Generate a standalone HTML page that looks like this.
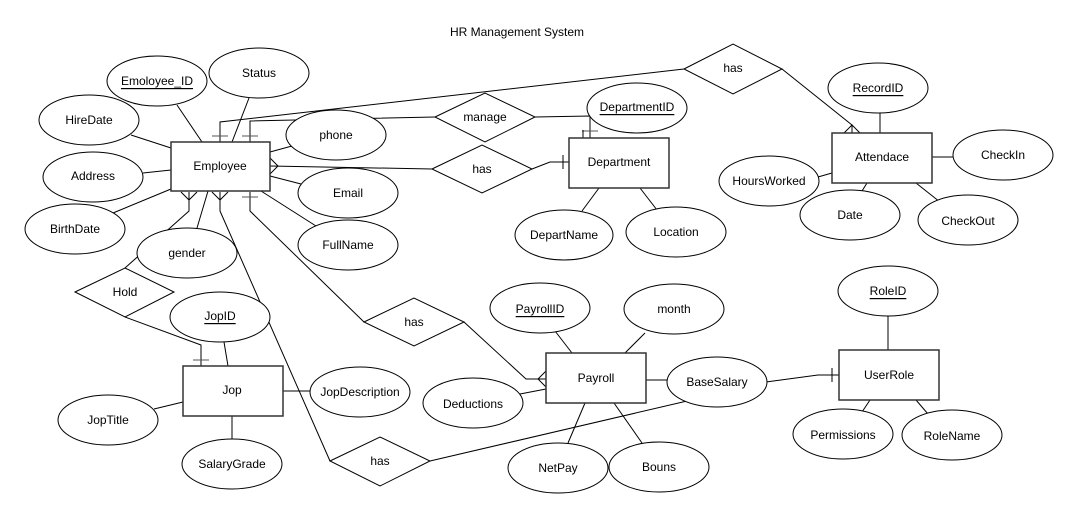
<!DOCTYPE html>
<html><head><meta charset="utf-8"><style>
html,body{margin:0;padding:0;background:#fff;}
svg{display:block;}
text{font-family:"Liberation Sans",Arial,sans-serif;font-size:12px;fill:#000;}
</style></head><body>
<svg width="1080" height="521" viewBox="0 0 1080 521" xmlns="http://www.w3.org/2000/svg">
<g stroke="#000" stroke-width="1" fill="none">
<!-- connectors -->
<!-- Employee -> has(top) -> Attendace -->
<polyline points="220,142 220,122 684,69"/>
<line x1="212" y1="136" x2="228" y2="136" stroke="#555"/>
<polyline points="782,69 852,125 852,133"/>
<polyline points="844,133 852,125 860,133"/>
<!-- Employee -> manage -> Department -->
<polyline points="250,142 250,121 435,117"/>
<line x1="242" y1="136" x2="258" y2="136" stroke="#555"/>
<polyline points="535,117 590,116 590,138"/>
<line x1="582" y1="131" x2="598" y2="131" stroke="#555"/>
<!-- Employee -> has -> Department -->
<polyline points="270,166 432,169"/>
<polyline points="270,158 278,166 270,174"/>
<polyline points="532,169 550,162 569,162"/>
<line x1="563" y1="155" x2="563" y2="169"/>
<!-- Employee -> Hold -> Jop -->
<polyline points="189,192 189,211 125,268"/>
<polyline points="181,192 189,200 197,192"/>
<polyline points="125,317 201,345 201,366"/>
<line x1="193" y1="360" x2="209" y2="360" stroke="#555"/>
<!-- Employee -> has(lower) -> UserRole -->
<polyline points="220,192 220,211 330,461"/>
<polyline points="212,192 220,200 228,192"/>
<polyline points="430,461 700,398"/>
<polyline points="766,382 818,375 839,375"/>
<line x1="832" y1="368" x2="832" y2="382"/>
<!-- Employee -> has -> Payroll -->
<polyline points="250,192 250,211 364,322"/>
<line x1="242" y1="197" x2="258" y2="197" stroke="#555"/>
<polyline points="464,322 526,379 546,379"/>
<polyline points="546,371 538,379 546,387"/>
<!-- Employee attributes -->
<line x1="177" y1="105" x2="202" y2="142"/>
<line x1="249" y1="98" x2="232" y2="142"/>
<line x1="131" y1="135" x2="171" y2="148"/>
<line x1="143" y1="173" x2="171" y2="170"/>
<line x1="113" y1="213" x2="171" y2="189"/>
<line x1="208" y1="191" x2="197" y2="228"/>
<line x1="270" y1="152" x2="292" y2="146"/>
<line x1="270" y1="176" x2="301" y2="184"/>
<line x1="261" y1="191" x2="316" y2="226"/>
<!-- Department attributes -->
<line x1="583" y1="130" x2="583" y2="138"/>
<line x1="599" y1="188" x2="582" y2="211"/>
<line x1="640" y1="188" x2="657" y2="210"/>
<!-- Attendace -->
<line x1="880" y1="113" x2="880" y2="133"/>
<line x1="818" y1="177" x2="832" y2="173"/>
<line x1="867" y1="183" x2="862" y2="191"/>
<line x1="916" y1="183" x2="940" y2="202"/>
<line x1="932" y1="157" x2="953" y2="157"/>
<!-- Payroll -->
<line x1="555" y1="331" x2="572" y2="353"/>
<line x1="645" y1="333" x2="625" y2="353"/>
<line x1="520" y1="394" x2="546" y2="389"/>
<line x1="646" y1="380" x2="668" y2="380"/>
<line x1="585" y1="403" x2="568" y2="443"/>
<line x1="614" y1="403" x2="642" y2="443"/>
<!-- UserRole -->
<line x1="888" y1="316" x2="888" y2="350" stroke="#555" stroke-width="1.5"/>
<line x1="870" y1="400" x2="862" y2="412"/>
<line x1="916" y1="400" x2="928" y2="414"/>
<!-- Jop -->
<line x1="224" y1="342" x2="228" y2="366"/>
<line x1="154" y1="409" x2="183" y2="402"/>
<line x1="232" y1="416" x2="232" y2="439" stroke="#555" stroke-width="1.5"/>
<line x1="283" y1="391" x2="311" y2="391"/>
</g>

<!-- shapes -->
<g stroke="#000" stroke-width="1" fill="#fff">
<!-- entities -->
<rect x="171" y="142" width="99" height="49" stroke="#333" stroke-width="1.5"/>
<rect x="569" y="138" width="100" height="50" stroke="#333" stroke-width="1.5"/>
<rect x="832" y="133" width="100" height="50" stroke="#333" stroke-width="1.5"/>
<rect x="546" y="353" width="100" height="50" stroke="#333" stroke-width="1.5"/>
<rect x="839" y="350" width="100" height="50" stroke="#333" stroke-width="1.5"/>
<rect x="183" y="366" width="100" height="50" stroke="#333" stroke-width="1.5"/>
<!-- diamonds -->
<polygon points="684,69 733,44 782,69 733,94"/>
<polygon points="435,117 485,93 535,117 485,142"/>
<polygon points="432,169 482,145 532,169 482,193"/>
<polygon points="75,292 125,268 174,292 125,317"/>
<polygon points="364,322 414,298 464,322 414,346"/>
<polygon points="330,461 380,437 430,461 380,486"/>
<!-- ellipses -->
<ellipse cx="157" cy="81" rx="50" ry="25"/>
<ellipse cx="259" cy="73" rx="50" ry="25"/>
<ellipse cx="89" cy="120" rx="50" ry="25"/>
<ellipse cx="93" cy="177" rx="50" ry="25"/>
<ellipse cx="75" cy="229" rx="50" ry="25"/>
<ellipse cx="187" cy="253" rx="50" ry="25"/>
<ellipse cx="336" cy="135" rx="50" ry="25"/>
<ellipse cx="348" cy="193" rx="50" ry="25"/>
<ellipse cx="348" cy="245" rx="50" ry="25"/>
<ellipse cx="220" cy="317" rx="50" ry="25"/>
<ellipse cx="637" cy="108" rx="50" ry="25"/>
<ellipse cx="564" cy="235" rx="49" ry="25"/>
<ellipse cx="676" cy="232" rx="50" ry="25"/>
<ellipse cx="878" cy="88" rx="50" ry="25"/>
<ellipse cx="769" cy="181" rx="50" ry="25"/>
<ellipse cx="850" cy="215" rx="50" ry="25"/>
<ellipse cx="968" cy="220" rx="50" ry="25"/>
<ellipse cx="1003" cy="155" rx="50" ry="25"/>
<ellipse cx="540" cy="308" rx="50" ry="25"/>
<ellipse cx="674" cy="309" rx="50" ry="25"/>
<ellipse cx="473" cy="403" rx="50" ry="25"/>
<ellipse cx="717" cy="382" rx="50" ry="25"/>
<ellipse cx="558" cy="468" rx="50" ry="25"/>
<ellipse cx="659" cy="467" rx="50" ry="25"/>
<ellipse cx="888" cy="291" rx="50" ry="25"/>
<ellipse cx="843" cy="434" rx="50" ry="25"/>
<ellipse cx="952" cy="435" rx="50" ry="25"/>
<ellipse cx="360" cy="392" rx="50" ry="25"/>
<ellipse cx="108" cy="420" rx="50" ry="25"/>
<ellipse cx="232" cy="464" rx="50" ry="25"/>
</g>

<!-- labels -->
<g text-anchor="middle" dominant-baseline="central">
<text x="517" y="32">HR Management System</text>
<text x="220" y="166">Employee</text>
<text x="619" y="162">Department</text>
<text x="882" y="157">Attendace</text>
<text x="596" y="378">Payroll</text>
<text x="889" y="375">UserRole</text>
<text x="232" y="390">Jop</text>
<text x="733" y="68">has</text>
<text x="485" y="117">manage</text>
<text x="482" y="169">has</text>
<text x="125" y="292">Hold</text>
<text x="414" y="322">has</text>
<text x="380" y="461">has</text>
<text x="157" y="81" text-decoration="underline">Emoloyee_ID</text>
<text x="259" y="73">Status</text>
<text x="89" y="120">HireDate</text>
<text x="93" y="176">Address</text>
<text x="75" y="229">BirthDate</text>
<text x="187" y="253">gender</text>
<text x="336" y="135">phone</text>
<text x="348" y="193">Email</text>
<text x="348" y="245">FullName</text>
<text x="220" y="316" text-decoration="underline">JopID</text>
<text x="637" y="107" text-decoration="underline">DepartmentID</text>
<text x="564" y="235">DepartName</text>
<text x="676" y="232">Location</text>
<text x="878" y="88" text-decoration="underline">RecordID</text>
<text x="769" y="181">HoursWorked</text>
<text x="850" y="215">Date</text>
<text x="968" y="221">CheckOut</text>
<text x="1003" y="155">CheckIn</text>
<text x="540" y="309" text-decoration="underline">PayrollID</text>
<text x="674" y="309">month</text>
<text x="473" y="404">Deductions</text>
<text x="717" y="382">BaseSalary</text>
<text x="558" y="468">NetPay</text>
<text x="659" y="467">Bouns</text>
<text x="888" y="291" text-decoration="underline">RoleID</text>
<text x="843" y="435">Permissions</text>
<text x="952" y="436">RoleName</text>
<text x="360" y="392">JopDescription</text>
<text x="108" y="420">JopTitle</text>
<text x="232" y="464">SalaryGrade</text>
</g>
</svg>
</body></html>
